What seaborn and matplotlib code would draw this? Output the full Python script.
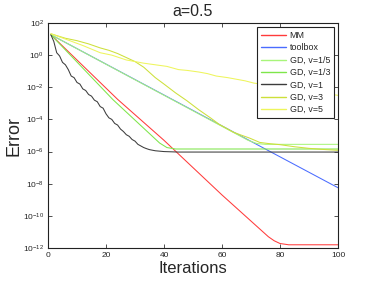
#! /usr/bin/env python3

# %% Setup
import numpy as np
import pandas as pd
import matplotlib
matplotlib.use("Agg")
import matplotlib.pyplot as plt
import seaborn as sns

title = "a=0.5"

sns.set_style("ticks")
plt.rcParams["font.family"] = ["Liberation Sans", "DejaVu Sans"]
plt.rcParams["mathtext.fontset"] = "custom"
plt.rcParams["mathtext.rm"] = "Liberation Sans"
plt.rcParams["xtick.direction"] = "in"
plt.rcParams["ytick.direction"] = "in"

# %% Data (log10 of the error)
mm_x = [1, 24, 40, 60, 76, 78, 80, 83, 100]
mm_log = [1.27, -2.75, -5.3, -8.7, -11.3, -11.55, -11.72, -11.8, -11.8]

toolbox_x = [1, 100]
toolbox_log = [1.27, -8.25]

gd15_x = [1, 69, 72, 75, 100]
gd15_log = [1.27, -5.3, -5.5, -5.55, -5.55]

gd13_x = [1, 22.4, 38.5, 41, 44, 100]
gd13_log = [1.27, -2.77, -5.47, -5.75, -5.84, -5.84]

gd1_x = [1, 2, 3, 4, 5, 6, 7, 8, 9, 10, 11, 12, 13, 14, 15, 16, 17, 18, 19,
         20, 21, 22, 23, 24, 25, 26, 27, 28, 29, 30, 31, 32, 33, 34, 35, 37,
         40, 45, 100]
gd1_log = [1.27, 0.85, 0.15, -0.05, -0.45, -0.6, -0.9, -1.3, -1.4, -1.7,
           -1.8, -2.1, -2.2, -2.45, -2.55, -2.8, -2.9, -3.2, -3.3, -3.65,
           -3.9, -4.0, -4.25, -4.35, -4.6, -4.75, -4.95, -5.05, -5.25, -5.35,
           -5.55, -5.65, -5.75, -5.82, -5.88, -5.95, -6.0, -6.03, -6.03]

gd3_x = [1, 6, 10, 14, 18, 21, 24, 27, 30, 33, 37, 40, 44, 48, 52, 56,
         59, 62, 64, 67, 69.5, 73, 76, 80, 85, 90, 95, 100]
gd3_log = [1.33, 1.05, 0.9, 0.7, 0.45, 0.3, 0.1, -0.15, -0.4, -0.75, -1.4,
           -1.8, -2.35, -2.85, -3.4, -3.9, -4.3, -4.6, -4.8, -5.0,
           -5.16, -5.43, -5.5, -5.57, -5.7, -5.8, -5.87, -5.92]

gd5_x = [1, 6, 12, 18, 22, 27, 30, 33, 37, 41, 45, 48, 52, 55, 58, 62,
         65, 68, 71, 78, 85, 92, 100]
gd5_log = [1.33, 1.0, 0.6, 0.15, 0.0, -0.3, -0.4, -0.5, -0.6, -0.7,
           -0.9, -0.95, -1.05, -1.15, -1.3, -1.4, -1.5, -1.6, -1.74, -1.9,
           -2.1, -2.3, -2.5]

labels = ["MM", "toolbox", "GD, v=1/5", "GD, v=1/3", "GD, v=1", "GD, v=3",
          "GD, v=5"]
colors = ["#ff3b3b", "#4a6cff", "#a8f57a", "#7ee64a", "#3c3c3c", "#cde03a",
          "#eef55c"]

series = [(mm_x, mm_log), (toolbox_x, toolbox_log), (gd15_x, gd15_log),
          (gd13_x, gd13_log), (gd1_x, gd1_log), (gd3_x, gd3_log),
          (gd5_x, gd5_log)]

frames = []
for lab, (xs, ls) in zip(labels, series):
    frames.append(pd.DataFrame({"it": xs, "err": np.power(10.0, ls),
                                "method": lab}))
df = pd.concat(frames, ignore_index=True)

# %% Plot
fig = plt.figure(figsize=(3.74, 2.81), dpi=100)
ax = fig.add_axes([48 / 374, 33 / 281, 290 / 374, 225 / 281])

sns.lineplot(data=df, x="it", y="err", hue="method", hue_order=labels,
             palette=dict(zip(labels, colors)), estimator=None, sort=False,
             linewidth=0.75, ax=ax)

ax.set_yscale("log")
ax.set_xlim(0, 100)
ax.set_ylim(1e-12, 1e2)
ax.set_xticks([0, 20, 40, 60, 80, 100])
ax.set_yticks([10.0 ** k for k in range(-12, 3, 2)])
ax.yaxis.set_minor_locator(matplotlib.ticker.NullLocator())
ax.tick_params(which="both", top=True, right=True, length=3, width=0.6,
               labelsize=6, pad=3, color="#333333")
for sp in ax.spines.values():
    sp.set_linewidth(0.8)
    sp.set_color("#222222")

ax.set_title(title, fontsize=11.5, pad=5)
ax.set_xlabel("Iterations", fontsize=12, labelpad=1)
ax.set_ylabel("Error", fontsize=13, labelpad=0)

leg = ax.legend(loc="upper right", fontsize=6.4, frameon=True, fancybox=False,
                borderaxespad=0.45, handlelength=2.8, handletextpad=0.45,
                labelspacing=0.38, borderpad=0.45)
leg.get_frame().set_edgecolor("#222222")
leg.get_frame().set_linewidth(0.8)
leg.get_frame().set_alpha(1)
for h in leg.get_lines():
    h.set_linewidth(1.0)

fig.savefig("out.png", dpi=100)
